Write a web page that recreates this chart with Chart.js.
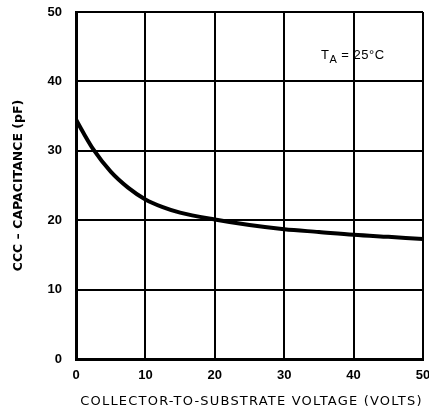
<!DOCTYPE html>
<html>
  <head>
    <meta charset="UTF-8">
    <title>Capacitance vs Voltage</title>
    <script src="https://cdn.jsdelivr.net/npm/chart.js"></script>
    <style>
      body { margin: 0; background: white; }
      #wrap { width: 429px; height: 413px; position: relative; }
    </style>
  </head>
  <body>
    <div id="wrap"><canvas id="myChart"></canvas></div>

    <script>
      // values
      const voltage = [0, 1, 2.5, 5, 7.5, 10, 12.5, 15, 20, 25, 30, 35, 40, 45, 50];
      const capacitance = [34.5, 32.7, 30.2, 27.0, 24.7, 23.0, 21.9, 21.1, 20.1, 19.3, 18.7, 18.3, 17.9, 17.6, 17.3];
      const xTicks = [0, 10, 20, 30, 40, 50];
      const yTicks = [0, 10, 20, 30, 40, 50];
      const xTitle = 'COLLECTOR-TO-SUBSTRATE VOLTAGE (VOLTS)';
      const yTitle = 'CCC – CAPACITANCE (pF)';
      const noteText = "T";
      const noteSub = "A";
      const noteRest = " = 25°C";

      const points = voltage.map((v, i) => ({ x: v, y: capacitance[i] }));

      // annotation + spaced-out x axis title
      const notePlugin = {
        id: 'note',
        afterDraw(chart) {
          const ctx = chart.ctx;
          const xs = chart.scales.x, ys = chart.scales.y;
          let x = xs.getPixelForValue(35.3);
          const y = ys.getPixelForValue(43.7);
          ctx.save();
          ctx.fillStyle = 'black';
          ctx.textBaseline = 'middle';
          ctx.letterSpacing = '0.5px';
          ctx.font = '13px Arial, "Liberation Sans", sans-serif';
          ctx.fillText(noteText, x, y);
          x += ctx.measureText(noteText).width;
          ctx.font = '11px Arial, "Liberation Sans", sans-serif';
          ctx.fillText(noteSub, x, y + 4);
          x += ctx.measureText(noteSub).width;
          ctx.font = '13px Arial, "Liberation Sans", sans-serif';
          ctx.fillText(noteRest, x, y);

          ctx.letterSpacing = '1.2px';
          ctx.font = '13px "DejaVu Sans", sans-serif';
          ctx.textAlign = 'center';
          const ca = chart.chartArea;
          ctx.fillText(xTitle, (ca.left + ca.right) / 2 + 2, 402);
          ctx.restore();
        }
      };

      const ctx = document.getElementById('myChart').getContext('2d');
      const myChart = new Chart(ctx, {
        type: 'scatter',
        data: {
          datasets: [{
            data: points,
            showLine: true,
            borderColor: 'black',
            borderWidth: 4,
            pointRadius: 0,
            cubicInterpolationMode: 'monotone',
            fill: false
          }]
        },
        options: {
          responsive: true,
          maintainAspectRatio: false,
          animation: false,
          layout: { padding: { top: 12, right: 6, left: 0, bottom: 0 } },
          plugins: {
            legend: { display: false },
            tooltip: { enabled: false }
          },
          scales: {
            x: {
              type: 'linear',
              min: 0,
              max: 50,
              afterBuildTicks(scale) {
                scale.ticks = xTicks.map(v => ({ value: v }));
              },
              afterFit(scale) {
                scale.paddingRight = 0;
                scale.height = 54;
              },
              ticks: {
                color: 'black',
                padding: 9,
                font: { size: 13, weight: 'bold', family: 'Arial, "Liberation Sans", sans-serif' }
              },
              grid: { color: 'black', lineWidth: 2, drawTicks: false },
              border: { color: 'black', width: 3 },
              title: { display: false }
            },
            y: {
              type: 'linear',
              min: 0,
              max: 50,
              afterBuildTicks(scale) {
                scale.ticks = yTicks.map(v => ({ value: v }));
              },
              afterFit(scale) {
                scale.paddingTop = 0;
                scale.paddingBottom = 0;
                scale.width = 76;
              },
              ticks: {
                color: 'black',
                padding: 14,
                font: { size: 13, weight: 'bold', family: 'Arial, "Liberation Sans", sans-serif' }
              },
              grid: { color: 'black', lineWidth: 2, drawTicks: false },
              border: { color: 'black', width: 3 },
              title: {
                display: true,
                text: yTitle,
                color: 'black',
                padding: { top: 11, bottom: 0 },
                font: { size: 12.5, weight: 'bold', family: '"DejaVu Sans", sans-serif' }
              }
            }
          }
        },
        plugins: [notePlugin]
      });
    </script>
  </body>
</html>
